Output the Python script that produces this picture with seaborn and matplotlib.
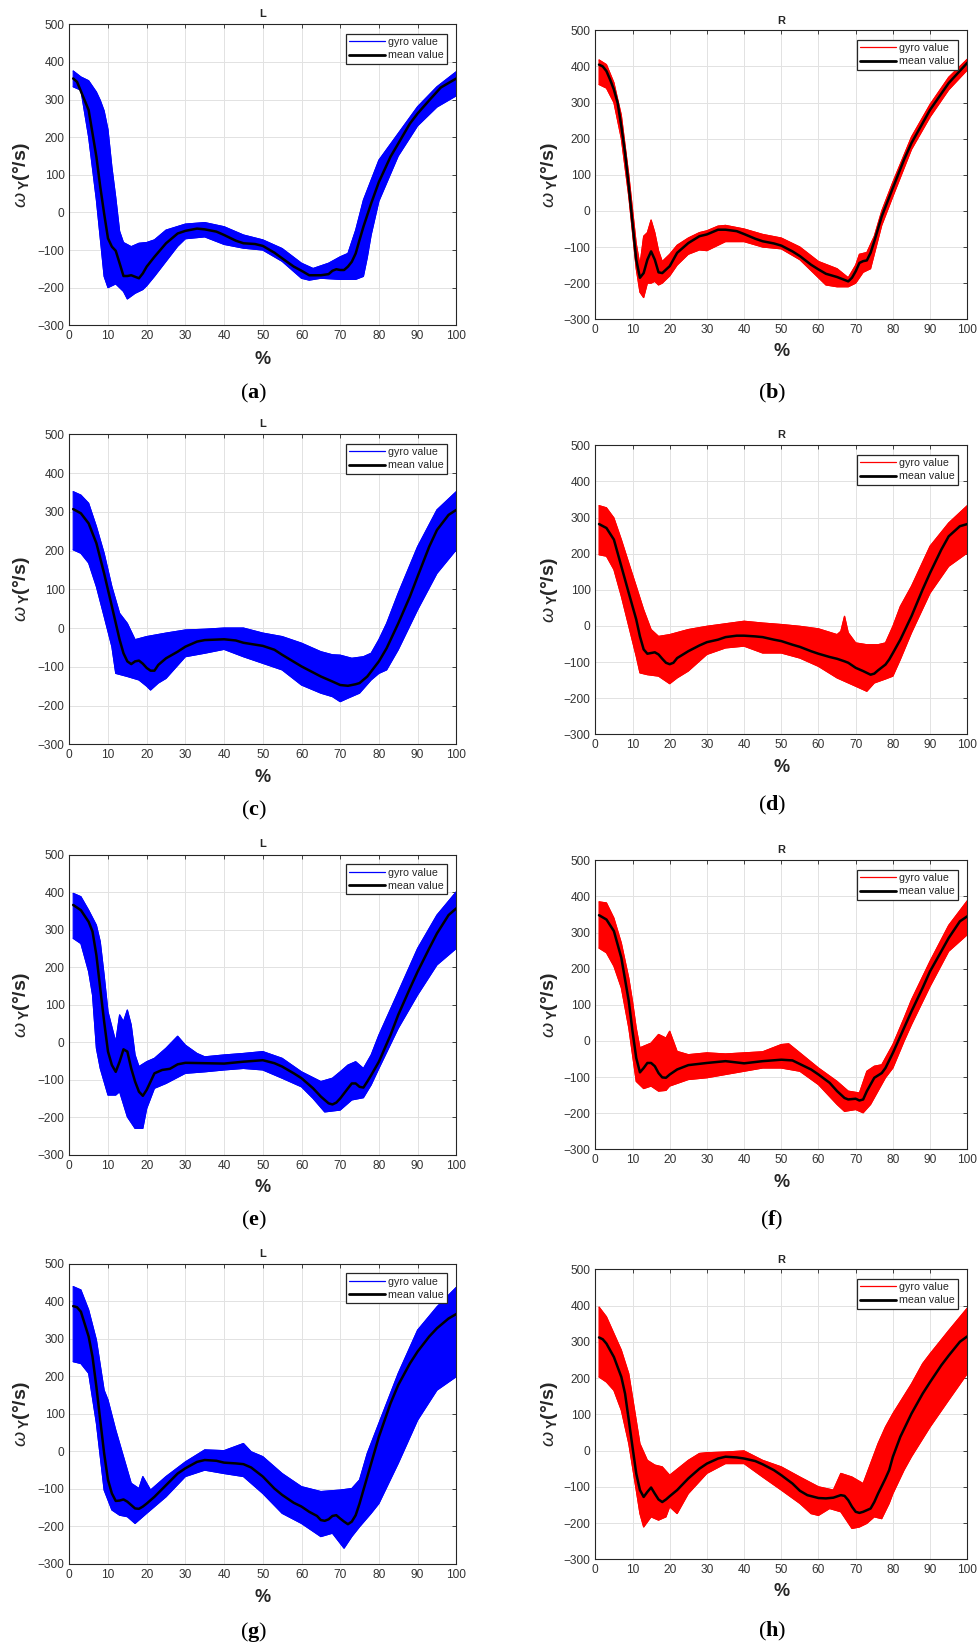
import numpy as np
import matplotlib
matplotlib.use('Agg')
import matplotlib.pyplot as plt
from matplotlib.lines import Line2D
import seaborn as sns

sns.set_style('whitegrid')
plt.rcParams['font.family'] = ['Liberation Sans', 'DejaVu Sans']
plt.rcParams['mathtext.fontset'] = 'custom'
plt.rcParams['mathtext.rm'] = 'Liberation Sans'
plt.rcParams['mathtext.it'] = 'Liberation Sans:italic'
plt.rcParams['mathtext.sf'] = 'Liberation Sans:bold'
plt.rcParams['mathtext.bf'] = 'Liberation Serif:bold'

# ---- data (percent of gait cycle vs angular rate) ----
# (a) L
A_MEAN_X = [1, 2, 5, 7, 8, 9, 10, 11, 12, 13, 14, 15, 16, 17, 18, 19, 20, 22, 25, 28, 30, 33, 35, 38, 40, 43, 45, 48,
            50, 53, 55, 58, 60, 62, 65, 67, 68, 69, 70, 71, 72, 73, 74, 75, 76, 77, 78, 80, 83, 85, 88, 90, 93, 96, 100]
A_MEAN_Y = [356, 347, 272, 148, 68, -3, -69, -91, -102, -135, -169, -169, -167, -171, -175, -162, -144, -118, -82, -56,
            -49, -43, -45, -51, -60, -75, -82, -84, -89, -107, -122, -144, -155, -167, -167, -164, -155, -151, -153,
            -153, -144, -131, -109, -73, -38, -7, 24, 81, 148, 183, 236, 263, 298, 332, 356]
A_UP_X = [1, 3, 5, 7, 8, 9, 10, 11, 12, 13, 14, 16, 18, 20, 22, 25, 30, 35, 40, 45, 50, 55, 60, 63, 67, 70, 72, 74,
          76, 78, 80, 85, 90, 95, 100]
A_UP_Y = [376, 360, 350, 320, 298, 270, 220, 121, 40, -50, -80, -91, -82, -80, -73, -47, -31, -27, -38, -60, -73, -96,
          -135, -149, -135, -118, -109, -47, 33, 86, 139, 210, 281, 334, 374]
A_LO_X = [1, 3, 5, 7, 9, 10, 12, 14, 15, 17, 19, 20, 22, 25, 28, 30, 35, 40, 45, 50, 55, 60, 62, 65, 70, 74, 76, 77,
          78, 80, 85, 90, 95, 100]
A_LO_Y = [334, 325, 200, 33, -170, -200, -190, -210, -230, -215, -205, -195, -170, -130, -90, -70, -65, -85, -95,
          -100, -130, -175, -180, -175, -178, -178, -170, -120, -60, 30, 150, 230, 280, 310]

# (b) R
B_MEAN_X = [1, 2, 3, 4, 5, 6, 7, 8, 9, 10, 11, 12, 13, 14, 15, 16, 17, 18, 20, 22, 25, 28, 30, 33, 35, 38, 40, 43, 45,
            48, 50, 53, 55, 58, 60, 62, 65, 68, 69, 70, 71, 72, 73, 74, 75, 77, 80, 83, 85, 90, 95, 100]
B_MEAN_Y = [405, 400, 387, 363, 336, 299, 234, 160, 68, -33, -135, -185, -172, -135, -112, -135, -170, -172, -153,
            -116, -89, -70, -65, -52, -52, -56, -64, -77, -84, -90, -96, -112, -125, -149, -162, -174, -183, -195,
            -185, -167, -144, -139, -137, -116, -84, -15, 64, 142, 188, 280, 354, 410]
B_UP_X = [1, 3, 5, 7, 9, 11, 12, 13, 14, 15, 16, 17, 18, 20, 22, 25, 28, 30, 33, 35, 40, 45, 50, 55, 60, 65, 68, 70,
          71, 73, 75, 77, 80, 85, 90, 95, 100]
B_UP_Y = [418, 405, 355, 265, 100, -90, -150, -70, -60, -25, -60, -110, -140, -120, -95, -75, -60, -55, -42, -40, -50,
          -65, -75, -100, -140, -160, -185, -150, -120, -115, -70, 0, 80, 205, 295, 370, 420]
B_LO_X = [1, 3, 5, 7, 9, 11, 12, 13, 14, 15, 16, 17, 18, 20, 22, 25, 28, 30, 33, 35, 40, 45, 50, 55, 60, 62, 65, 68,
          70, 72, 74, 75, 77, 80, 85, 90, 95, 100]
B_LO_Y = [350, 340, 300, 200, 40, -160, -225, -240, -200, -200, -195, -205, -200, -180, -150, -120, -108, -110, -95,
          -85, -85, -100, -105, -135, -185, -205, -210, -210, -200, -170, -160, -120, -40, 40, 170, 260, 335, 390]

# (c) L
C_MEAN_X = [1, 3, 5, 7, 9, 11, 13, 14, 15, 16, 17, 18, 19, 20, 21, 22, 23, 25, 28, 30, 33, 35, 40, 43, 45, 50, 53, 55,
            60, 65, 68, 70, 72, 74, 75, 77, 79, 80, 82, 85, 88, 90, 93, 95, 98, 100]
C_MEAN_Y = [307, 296, 270, 219, 141, 56, -30, -65, -86, -93, -86, -84, -92, -103, -110, -110, -95, -78, -61, -48,
            -35, -31, -29, -32, -38, -46, -56, -69, -99, -125, -138, -147, -149, -145, -142, -125, -99, -86, -52, 12,
            81, 133, 210, 253, 292, 305]
C_UP_X = [1, 3, 5, 7, 9, 11, 13, 15, 17, 20, 25, 30, 35, 40, 45, 50, 55, 60, 65, 68, 70, 73, 76, 78, 80, 82, 85, 90,
          95, 100]
C_UP_Y = [352, 343, 322, 262, 193, 107, 38, 12, -30, -22, -13, -5, -3, 0, 0, -13, -22, -39, -61, -69, -70, -78, -74,
          -65, -30, 12, 90, 210, 305, 352]
C_LO_X = [1, 3, 5, 7, 9, 11, 12, 15, 18, 20, 21, 23, 25, 30, 35, 40, 45, 50, 55, 60, 65, 68, 70, 72, 75, 78, 80, 82,
          85, 90, 95, 100]
C_LO_Y = [202, 193, 168, 107, 30, -48, -117, -125, -134, -150, -160, -142, -130, -74, -65, -55, -74, -91, -108, -147,
          -168, -177, -190, -181, -168, -134, -117, -108, -56, 47, 141, 202]

# (d) R
D_MEAN_X = [1, 3, 5, 7, 9, 11, 12, 13, 14, 15, 16, 17, 18, 19, 20, 21, 22, 25, 28, 30, 33, 35, 38, 40, 43, 45, 48, 50,
            53, 55, 58, 60, 63, 65, 67, 68, 70, 72, 74, 75, 76, 78, 79, 80, 82, 85, 88, 90, 93, 95, 98, 100]
D_MEAN_Y = [282, 271, 239, 165, 91, 18, -29, -65, -77, -75, -73, -79, -91, -102, -106, -102, -89, -70, -54, -45, -38,
            -31, -27, -27, -29, -31, -38, -42, -52, -58, -70, -77, -86, -91, -98, -102, -116, -125, -135, -132, -123,
            -107, -93, -75, -38, 27, 101, 147, 211, 248, 276, 282]
D_UP_X = [1, 3, 5, 7, 9, 11, 13, 15, 17, 20, 25, 30, 35, 40, 45, 50, 55, 60, 65, 66, 67, 68, 70, 73, 76, 78, 80, 82,
          85, 90, 95, 100]
D_UP_Y = [333, 327, 299, 239, 174, 110, 45, -10, -29, -24, -10, -1, 6, 13, 8, 4, -1, -8, -24, -15, 27, -19, -47, -52,
          -52, -47, -1, 54, 110, 221, 285, 333]
D_LO_X = [1, 3, 5, 7, 9, 11, 12, 14, 17, 20, 22, 25, 30, 35, 40, 45, 50, 55, 60, 65, 70, 73, 75, 78, 80, 82, 85, 90,
          95, 100]
D_LO_Y = [197, 193, 156, 82, -1, -84, -130, -135, -139, -160, -144, -125, -79, -61, -56, -75, -75, -89, -112, -144,
          -167, -181, -158, -147, -139, -93, -19, 91, 165, 202]

# (e) L
E_MEAN_X = [1, 3, 5, 6, 7, 8, 9, 10, 11, 12, 13, 14, 15, 16, 17, 18, 19, 20, 21, 22, 24, 26, 28, 30, 35, 40, 45, 50,
            53, 55, 58, 60, 63, 65, 67, 68, 69, 70, 72, 73, 74, 75, 76, 77, 78, 80, 83, 85, 88, 90, 93, 95, 98, 100]
E_MEAN_Y = [366, 352, 321, 295, 232, 143, 55, -25, -61, -79, -52, -19, -25, -70, -105, -132, -143, -127, -105, -83,
            -74, -71, -59, -55, -56, -57, -52, -48, -56, -65, -83, -96, -123, -145, -163, -166, -161, -150, -123,
            -110, -110, -119, -121, -105, -88, -52, 19, 73, 143, 188, 250, 290, 339, 357]
E_UP_X = [1, 3, 5, 7, 8, 9, 10, 12, 13, 14, 15, 16, 17, 18, 20, 22, 25, 28, 30, 33, 35, 40, 45, 50, 55, 60, 65, 68,
          70, 72, 74, 76, 78, 80, 85, 90, 95, 100]
E_UP_Y = [397, 388, 352, 312, 268, 179, 81, 1, 73, 55, 86, 46, -34, -65, -52, -43, -16, 16, -8, -30, -39, -34, -30,
          -25, -43, -79, -105, -96, -79, -61, -52, -70, -34, 19, 134, 250, 339, 401]
E_LO_X = [1, 3, 5, 6, 7, 8, 10, 12, 13, 15, 17, 19, 20, 22, 25, 30, 35, 40, 45, 50, 55, 60, 63, 66, 70, 73, 76, 78,
          80, 85, 90, 95, 100]
E_LO_Y = [277, 263, 188, 126, -16, -70, -141, -141, -132, -199, -230, -230, -177, -123, -110, -83, -79, -74, -70,
          -74, -96, -119, -150, -186, -181, -154, -148, -114, -70, 37, 126, 206, 250]

# (f) R
F_MEAN_X = [1, 3, 5, 7, 9, 10, 11, 12, 13, 14, 15, 16, 17, 18, 19, 20, 22, 25, 30, 35, 40, 45, 50, 53, 55, 58, 60, 63,
            65, 67, 68, 70, 71, 72, 73, 75, 77, 78, 80, 83, 85, 88, 90, 93, 95, 98, 100]
F_MEAN_Y = [348, 336, 304, 230, 110, 27, -47, -87, -75, -61, -61, -70, -89, -101, -102, -93, -79, -67, -61, -56, -62,
            -56, -52, -54, -64, -79, -93, -116, -139, -158, -162, -160, -165, -162, -139, -102, -89, -75, -33, 36,
            82, 147, 193, 248, 285, 331, 345]
F_UP_X = [1, 3, 5, 7, 9, 10, 11, 12, 15, 17, 19, 20, 22, 25, 30, 35, 40, 45, 50, 52, 55, 60, 65, 68, 71, 73, 75, 77,
          80, 83, 85, 90, 95, 100]
F_UP_Y = [385, 382, 340, 271, 174, 110, 36, -19, -6, 18, 8, 27, -29, -38, -33, -36, -33, -30, -10, -8, -33, -75,
          -112, -139, -144, -84, -70, -66, -10, 63, 114, 221, 320, 388]
F_LO_X = [1, 3, 5, 7, 9, 10, 11, 13, 15, 17, 19, 20, 25, 30, 35, 40, 45, 50, 55, 60, 65, 67, 70, 72, 74, 76, 78, 80,
          83, 85, 90, 95, 100]
F_LO_Y = [257, 244, 207, 147, 36, -38, -112, -132, -125, -139, -137, -125, -107, -102, -93, -84, -75, -75, -84, -121,
          -176, -195, -190, -199, -176, -139, -102, -75, -1, 45, 151, 248, 294]

# (g) L
G_MEAN_X = [1, 2, 3, 5, 6, 7, 8, 9, 10, 11, 12, 13, 14, 15, 16, 17, 18, 19, 20, 22, 25, 28, 30, 33, 35, 38, 40, 43,
            45, 47, 50, 53, 55, 58, 60, 62, 64, 65, 66, 67, 68, 69, 70, 71, 72, 73, 74, 75, 76, 78, 80, 83, 85, 88,
            90, 93, 95, 98, 100]
G_MEAN_Y = [387, 384, 372, 306, 252, 172, 83, -5, -76, -112, -132, -131, -128, -134, -143, -152, -153, -147, -139,
            -121, -90, -59, -45, -28, -23, -25, -30, -32, -34, -43, -67, -99, -116, -137, -147, -161, -172, -183,
            -185, -181, -172, -170, -179, -187, -194, -187, -170, -139, -103, -32, 39, 128, 177, 234, 266, 306, 328,
            354, 366]
G_UP_X = [1, 3, 5, 7, 9, 10, 12, 14, 16, 18, 19, 21, 25, 30, 35, 40, 45, 47, 50, 55, 60, 65, 70, 73, 75, 77, 80, 85,
          90, 95, 100]
G_UP_Y = [439, 430, 377, 297, 163, 137, 57, -14, -85, -99, -67, -103, -67, -28, 4, 2, 21, -1, -14, -59, -94, -107,
          -103, -99, -76, -5, 75, 208, 323, 385, 437]
G_LO_X = [1, 3, 5, 7, 8, 9, 11, 13, 15, 17, 19, 20, 25, 30, 35, 40, 45, 50, 55, 60, 65, 68, 71, 73, 75, 78, 80, 85,
          90, 95, 100]
G_LO_Y = [239, 234, 208, 75, -14, -103, -156, -170, -174, -192, -174, -165, -121, -67, -50, -59, -67, -112, -165,
          -192, -227, -218, -258, -227, -201, -165, -139, -32, 83, 163, 199]

# (h) R
H_MEAN_X = [1, 2, 3, 5, 7, 8, 9, 10, 11, 12, 13, 14, 15, 16, 17, 18, 19, 20, 22, 25, 28, 30, 33, 35, 38, 40, 43, 45,
            48, 50, 53, 55, 57, 60, 62, 64, 66, 67, 68, 69, 70, 71, 72, 74, 75, 76, 78, 79, 80, 82, 85, 88, 90, 93,
            95, 98, 100]
H_MEAN_Y = [312, 307, 295, 258, 203, 157, 84, 10, -63, -109, -128, -114, -102, -119, -135, -142, -135, -126, -109,
            -77, -50, -36, -22, -17, -19, -22, -29, -38, -54, -68, -91, -111, -123, -131, -132, -130, -123, -125,
            -137, -155, -169, -172, -169, -160, -142, -119, -77, -54, -17, 38, 102, 157, 189, 235, 262, 300, 315]
H_UP_X = [1, 3, 5, 7, 9, 10, 12, 14, 16, 18, 20, 25, 28, 30, 35, 40, 45, 50, 55, 60, 64, 66, 69, 72, 74, 76, 78, 80,
          85, 88, 90, 95, 100]
H_UP_Y = [396, 369, 323, 277, 212, 148, 19, -27, -40, -45, -68, -27, -8, -6, -4, -1, -27, -45, -73, -100, -109, -63,
          -73, -91, -36, 19, 65, 102, 184, 240, 267, 331, 393]
H_LO_X = [1, 3, 5, 7, 9, 11, 12, 13, 15, 17, 19, 20, 22, 25, 30, 35, 40, 45, 50, 55, 58, 60, 63, 66, 69, 71, 73, 75,
          77, 79, 80, 83, 85, 90, 95, 100]
H_LO_Y = [203, 189, 166, 111, 19, -109, -174, -211, -183, -192, -183, -155, -174, -119, -63, -36, -36, -73, -109,
          -146, -174, -179, -160, -169, -215, -211, -201, -183, -188, -146, -119, -54, -17, 65, 139, 212]

PANEL_LABELS = ['a', 'b', 'c', 'd', 'e', 'f', 'g', 'h']
SIDES = ['L', 'R', 'L', 'R', 'L', 'R', 'L', 'R']
LEGEND_LABELS = ['gyro value', 'mean value']
X_TICKS = list(range(0, 101, 10))
Y_TICKS = list(range(-300, 501, 100))

SERIES = [
    (A_MEAN_X, A_MEAN_Y, A_UP_X, A_UP_Y, A_LO_X, A_LO_Y),
    (B_MEAN_X, B_MEAN_Y, B_UP_X, B_UP_Y, B_LO_X, B_LO_Y),
    (C_MEAN_X, C_MEAN_Y, C_UP_X, C_UP_Y, C_LO_X, C_LO_Y),
    (D_MEAN_X, D_MEAN_Y, D_UP_X, D_UP_Y, D_LO_X, D_LO_Y),
    (E_MEAN_X, E_MEAN_Y, E_UP_X, E_UP_Y, E_LO_X, E_LO_Y),
    (F_MEAN_X, F_MEAN_Y, F_UP_X, F_UP_Y, F_LO_X, F_LO_Y),
    (G_MEAN_X, G_MEAN_Y, G_UP_X, G_UP_Y, G_LO_X, G_LO_Y),
    (H_MEAN_X, H_MEAN_Y, H_UP_X, H_UP_Y, H_LO_X, H_LO_Y),
]

# ---- layout (pixels of the 979 x 1650 canvas) ----
W, H = 979, 1650
COL_X = {'L': (69.3, 456.3), 'R': (595.3, 967.3)}
COL_SUB_X = {'L': 254, 'R': 772}
COL_YLAB_X = {'L': 22, 'R': 550}
# top, bottom, title y, xlabel y, sublabel y
ROWS = [
    (24.3, 325.3, 14.3, 360, 393),
    (30.3, 319.3, 20.7, 352, 393),
    (434.3, 744.3, 424, 778, 810),
    (445.3, 734.3, 435, 767.7, 805),
    (854.7, 1154.7, 844.3, 1188, 1220),
    (860.3, 1149.3, 850, 1182.7, 1220),
    (1263.7, 1564, 1254, 1598, 1631.7),
    (1269.3, 1559.3, 1260, 1591.7, 1631.7),
]
COLORS = {'L': '#0000ff', 'R': '#ff0000'}
TXT = '#262626'

fig = plt.figure(figsize=(W / 100, H / 100), dpi=100)
fig.patch.set_facecolor('white')

for i, (mx, my, ux, uy, lx, ly) in enumerate(SERIES):
    side = SIDES[i]
    x0, x1 = COL_X[side]
    top, bot, ty, xly, sy = ROWS[i]
    ax = fig.add_axes([x0 / W, 1 - bot / H, (x1 - x0) / W, (bot - top) / H])
    ax.set_facecolor('white')
    c = COLORS[side]

    # band of individual gyro traces
    poly_x = np.r_[ux, lx[::-1]]
    poly_y = np.r_[uy, ly[::-1]]
    ax.fill(poly_x, poly_y, color=c, lw=0.8, zorder=2)
    sns.lineplot(x=ux, y=uy, ax=ax, color=c, linewidth=0.8, sort=False, zorder=3)
    sns.lineplot(x=lx, y=ly, ax=ax, color=c, linewidth=0.8, sort=False, zorder=3)
    # mean curve
    sns.lineplot(x=mx, y=my, ax=ax, color='black', linewidth=1.8, sort=False, zorder=4)

    ax.set_xlim(0, 100)
    ax.set_ylim(-300, 500)
    ax.set_xticks(X_TICKS)
    ax.set_yticks(Y_TICKS)
    ax.grid(True, color='#e2e2e2', linewidth=0.7)
    ax.set_axisbelow(True)
    ax.tick_params(direction='in', length=3, width=0.6, top=True, right=True,
                   labelsize=8.6, labelcolor='#333333', color=TXT, pad=3.5)
    for sp in ax.spines.values():
        sp.set_visible(True)
        sp.set_color(TXT)
        sp.set_linewidth(0.8)
    ax.set_xlabel('')
    ax.set_ylabel('')

    handles = [Line2D([], [], color=c, lw=0.9), Line2D([], [], color='black', lw=2.0)]
    leg = ax.legend(handles, LEGEND_LABELS, loc='upper right', fontsize=7.7, frameon=True,
                    fancybox=False, edgecolor=TXT, framealpha=1, borderpad=0.3,
                    handlelength=3.3, labelspacing=0.3, borderaxespad=0.9, handletextpad=0.3)
    leg.get_frame().set_linewidth(0.9)
    for t in leg.get_texts():
        t.set_color(TXT)

    cx = (x0 + x1) / 2
    fig.text(cx / W, 1 - ty / H, side, ha='center', va='center', fontsize=8,
             fontweight='bold', color=TXT)
    fig.text(cx / W, 1 - xly / H, '%', ha='center', va='center', fontsize=13,
             fontweight='bold', color=TXT)
    fig.text(COL_YLAB_X[side] / W, 1 - (top + bot) / 2 / H, r'$\omega\,_{\mathsf{Y}}$(°/s)',
             ha='center', va='center', rotation=90, fontsize=14, fontweight='bold', color=TXT)
    fig.text(COL_SUB_X[side] / W, 1 - sy / H, '($\\mathbf{' + PANEL_LABELS[i] + '}$)',
             ha='center', va='center', fontsize=16, family='Liberation Serif', color='black')

fig.savefig('out.png', dpi=100, facecolor='white')
